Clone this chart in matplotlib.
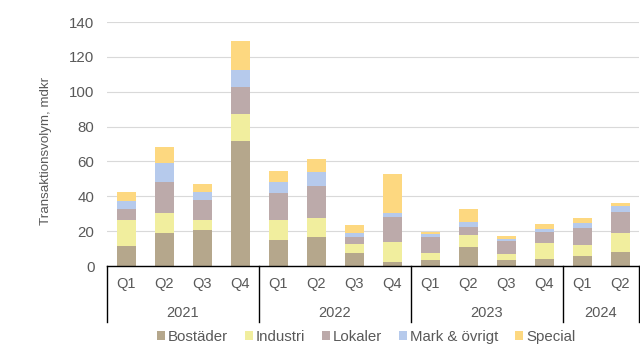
import matplotlib.pyplot as plt
import numpy as np
from matplotlib.patches import Patch

plt.rcParams["font.family"] = ["Liberation Sans", "DejaVu Sans"]

quarters = ["Q1", "Q2", "Q3", "Q4"] * 3 + ["Q1", "Q2"]
years = ["2021", "2022", "2023", "2024"]
year_sizes = [4, 4, 4, 2]

series = ["Bostäder", "Industri", "Lokaler", "Mark & övrigt", "Special"]
colors = ["#b5a78c", "#f1ee9e", "#bcaaaa", "#b6caec", "#fdd880"]

bostader = [11.7, 18.8, 20.7, 71.7, 14.9, 16.5, 7.6, 2.5, 3.3, 10.9, 3.3, 3.8, 5.7, 8.2]
industri = [14.7, 11.4, 5.7, 15.5, 11.5, 10.9, 5.0, 11.4, 4.3, 7.1, 3.6, 9.6, 6.3, 10.6]
lokaler = [6.3, 17.8, 11.5, 15.3, 15.3, 18.7, 3.9, 14.4, 9.0, 4.4, 7.6, 6.3, 9.8, 12.0]
mark = [4.6, 11.3, 4.4, 9.9, 6.3, 7.7, 2.3, 1.9, 1.8, 3.0, 1.2, 1.5, 3.0, 3.6]
special = [5.0, 8.8, 4.6, 16.6, 6.5, 7.6, 4.9, 22.4, 0.9, 7.3, 1.5, 2.9, 2.7, 1.6]

data = [bostader, industri, lokaler, mark, special]
text_color = "#595959"

fig = plt.figure(figsize=(6.4, 3.5), dpi=100)
ax = fig.add_axes([107 / 640, 84 / 350, 532 / 640, 244 / 350])

x = np.arange(len(quarters))
bottom = np.zeros(len(x))
for vals, col, name in zip(data, colors, series):
    ax.bar(x, vals, width=0.5, bottom=bottom, color=col, label=name, zorder=2)
    bottom += np.array(vals)

ax.set_xlim(-0.5, len(x) - 0.5)
ax.set_ylim(0, 140)
ax.set_yticks(np.arange(0, 141, 20))
ax.yaxis.grid(True, color="#d9d9d9", linewidth=0.8, zorder=0)
ax.set_axisbelow(True)
for s in ["top", "right", "left"]:
    ax.spines[s].set_visible(False)
ax.spines["bottom"].set_color("black")
ax.spines["bottom"].set_linewidth(1.0)
ax.spines["bottom"].set_zorder(3)

ax.set_xticks(x)
ax.set_xticklabels(quarters, fontsize=10.5, color=text_color)
ax.tick_params(axis="x", length=0, pad=8)
ax.tick_params(axis="y", length=0, labelsize=10.8, labelcolor=text_color, pad=9)
ax.set_ylabel("Transaktionsvolym, mdkr", fontsize=9.6, color=text_color)
ax.yaxis.set_label_coords((52 - 107) / 532, 0.47)

# year boxes under the quarter labels
trans = ax.get_xaxis_transform()
box_bottom = (266 - 322) / 244
edges = np.concatenate([[0], np.cumsum(year_sizes)]) - 0.5
for e in edges:
    ax.plot([e, e], [0, box_bottom], color="black", linewidth=1.0,
            transform=trans, clip_on=False)
for i, yr in enumerate(years):
    mid = (edges[i] + edges[i + 1]) / 2
    ax.text(mid, (266 - 313) / 244, yr, transform=trans, ha="center", va="center",
            fontsize=10.5, color=text_color)

handles = [Patch(facecolor=c, edgecolor="none") for c in colors]
fig.legend(handles, series, loc="center", bbox_to_anchor=(366 / 640, 1 - 337 / 350),
           ncol=5, frameon=False, fontsize=10.8, handlelength=0.55, handleheight=0.55,
           handletextpad=0.2, columnspacing=1.1, labelcolor=text_color,
           borderpad=0, borderaxespad=0)

fig.savefig("out.png", dpi=100)
